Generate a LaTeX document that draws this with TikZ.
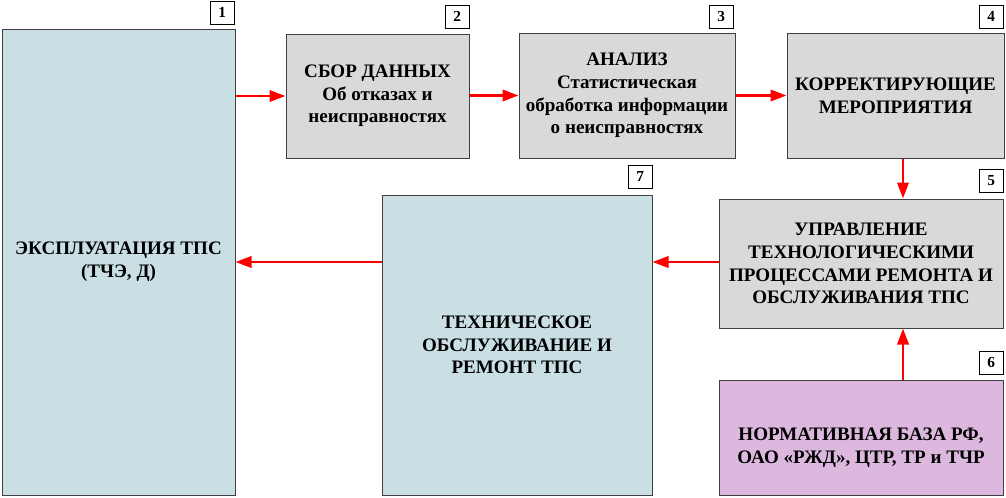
\documentclass[tikz,border=0pt]{standalone}
\usepackage{fontspec}
\setmainfont{Liberation Serif}
\usetikzlibrary{positioning,arrows.meta}

\definecolor{boxblue}{RGB}{201,223,228}
\definecolor{boxgray}{RGB}{217,217,217}
\definecolor{boxpink}{RGB}{221,184,222}
\definecolor{boxline}{RGB}{64,64,64}

\tikzset{
  block/.style={draw=boxline, line width=0.75pt, align=center, inner sep=2pt,
    font=\fontsize{14.3}{17}\selectfont\bfseries},
  tag/.style={draw=black, line width=0.6pt, fill=white, minimum width=18pt,
    minimum height=17pt, inner sep=0pt, font=\fontsize{11.5}{13}\selectfont\bfseries},
  flow/.style={draw=red, line width=2pt, -{Triangle[length=12pt,width=8.5pt]}}
}

\begin{document}
\begin{tikzpicture}[x=0.75pt,y=-0.75pt]
%set diagram frame: 1006 x 497
\useasboundingbox (0,0) rectangle (1006,497);

% Blocks
\node[block, fill=boxblue, minimum width=174.75pt, minimum height=349.5pt] (b1) at (118.5,262) {ЭКСПЛУАТАЦИЯ ТПС\\(ТЧЭ, Д)};
\node[block, fill=boxgray, minimum width=137.25pt, minimum height=93pt] (b2) at (377.5,96) {СБОР ДАННЫХ\\Об отказах и\\неисправностях};
\node[block, fill=boxgray, minimum width=162pt, minimum height=93.75pt] (b3) at (627,95.5) {АНАЛИЗ\\Статистическая\\обработка информации\\о неисправностях};
\node[block, fill=boxgray, minimum width=162.75pt, minimum height=93.75pt] (b4) at (895.5,95.5) {КОРРЕКТИРУЮЩИЕ\\МЕРОПРИЯТИЯ};
\node[block, fill=boxgray, minimum width=213pt, minimum height=96.75pt] (b5) at (861,263.5) {УПРАВЛЕНИЕ\\ТЕХНОЛОГИЧЕСКИМИ\\ПРОЦЕССАМИ РЕМОНТА И\\ОБСЛУЖИВАНИЯ ТПС};
\node[block, fill=boxpink, minimum width=213pt, minimum height=86.25pt] (b6) at (861,437.5) {};
\node[block, draw=none, fill=none, below=0pt of b6.center, anchor=center, yshift=-7.5pt] (t6) {НОРМАТИВНАЯ БАЗА РФ,\\ОАО «РЖД», ЦТР, ТР и ТЧР};
\node[block, fill=boxblue, minimum width=202.5pt, minimum height=225pt] (b7) at (517,345) {ТЕХНИЧЕСКОЕ\\ОБСЛУЖИВАНИЕ И\\РЕМОНТ ТПС};

% Number tags
\node[tag, above left=3pt and 0.75pt of b1.north east] (n1) {1};
\node[tag, above left=3.75pt and 0pt of b2.north east] (n2) {2};
\node[tag, above left=3pt and 1.5pt of b3.north east] (n3) {3};
\node[tag, above left=3pt and 0.75pt of b4.north east] (n4) {4};
\node[tag, above left=4.5pt and 0pt of b5.north east] (n5) {5};
\node[tag, above left=3.75pt and 0pt of b6.north east] (n6) {6};
\node[tag, above left=4.5pt and 0pt of b7.north east] (n7) {7};

% Connectors
\draw[flow] (b1.east |- b2.west) -- (b2.west);
\draw[flow] (b2.east |- b3.west) -- (b3.west);
\draw[flow] (b3.east) -- (b4.west);
\draw[flow] ([xshift=5.6pt]b4.south) -- ([xshift=5.6pt]b4.south |- b5.north);
\draw[flow] ([xshift=31.5pt]b6.north) -- ([xshift=31.5pt]b5.south);
\draw[flow] (b5.west |- b1.east) -- (b7.east |- b1.east);
\draw[flow] (b7.west |- b1.east) -- (b1.east);

\end{tikzpicture}
\end{document}
